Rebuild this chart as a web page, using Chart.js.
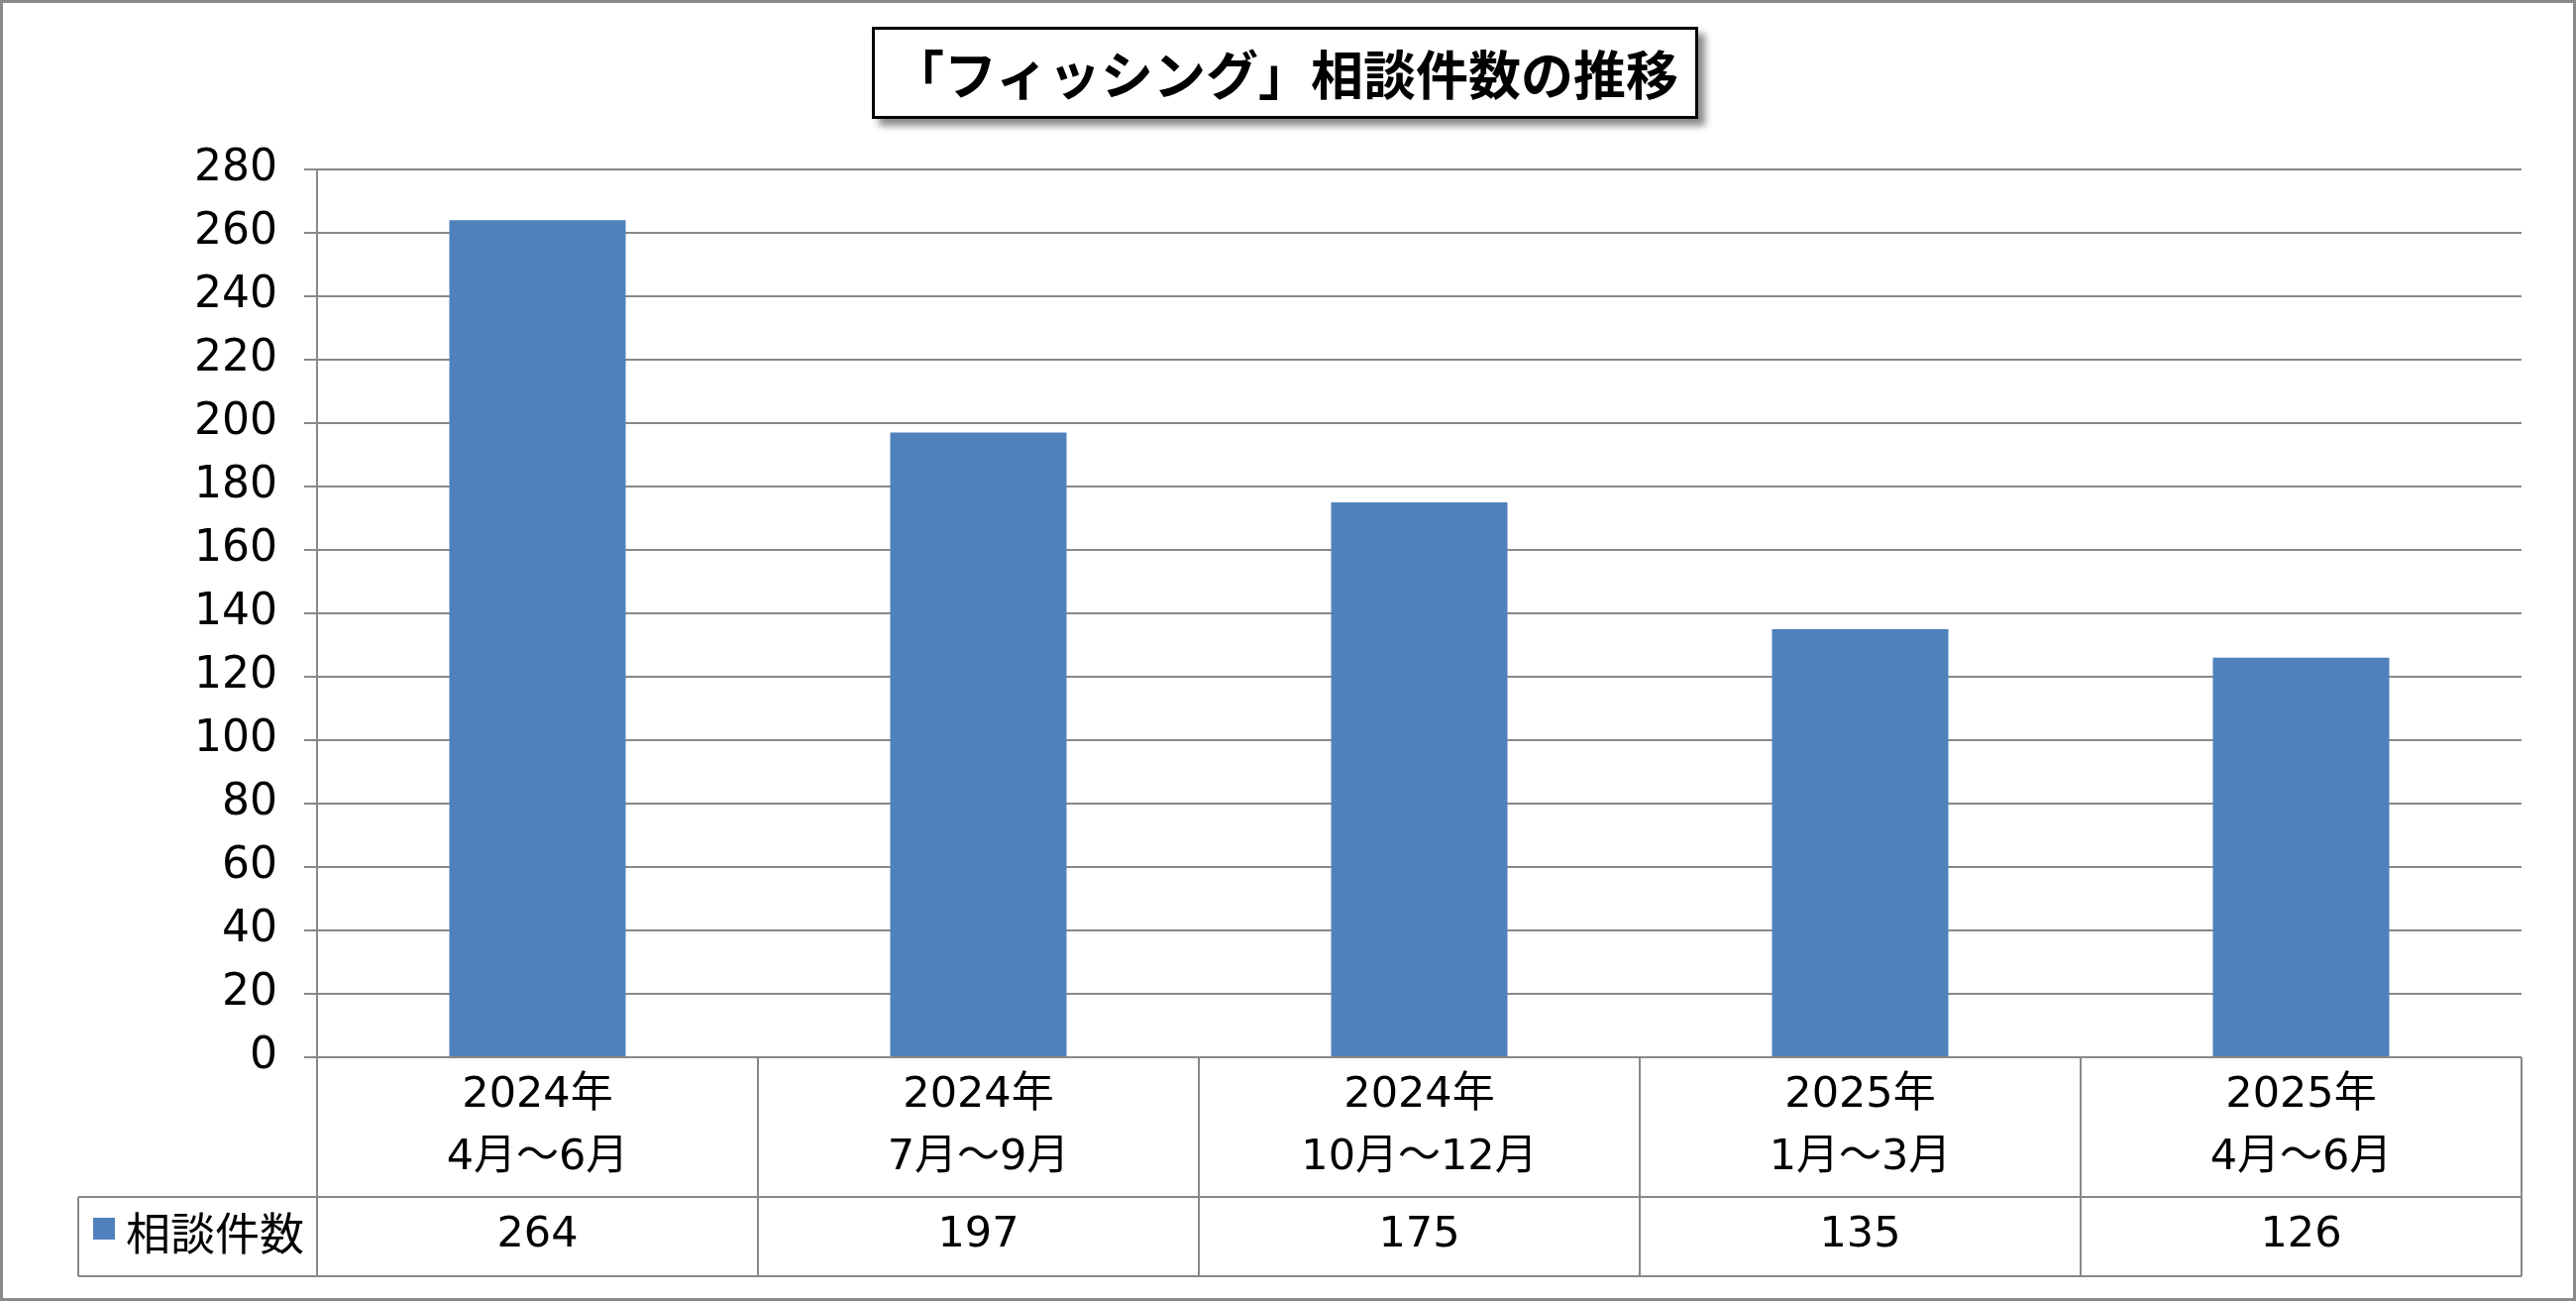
<!DOCTYPE html>
<html>
<head>
<meta charset="utf-8">
<script src="https://cdn.jsdelivr.net/npm/chart.js@4/dist/chart.umd.min.js"></script>
<style>
  html, body { margin: 0; padding: 0; background: #fff; }
  #wrap { position: relative; width: 2600px; height: 1313px; }
  #title {
    position: absolute; left: 880px; top: 27px; width: 834px; height: 93px;
    box-sizing: border-box; border: 3px solid #000; background: #fff;
    box-shadow: 7px 7px 7px rgba(0,0,0,0.45);
    font-family: "Noto Sans CJK JP", sans-serif; font-weight: 700; font-size: 53px;
    line-height: 87px; text-align: center; color: #000;
  }
</style>
</head>
<body>
<div id="wrap">
  <canvas id="bar-chart" width="2600" height="1313"></canvas>
  <div id="title">「フィッシング」相談件数の推移</div>
</div>
<script>
const years = ["2024年", "2024年", "2024年", "2025年", "2025年"];
const periods = ["4月～6月", "7月～9月", "10月～12月", "1月～3月", "4月～6月"];
const counts = [264, 197, 175, 135, 126];
const seriesName = "相談件数";
const yMin = 0, yMax = 280, yStep = 20;

const gridColor = "#888888";
const barColor = "#4F81BD";
const cjkFont = '"Noto Sans CJK JP", sans-serif';
const numFont = '"DejaVu Sans", "Noto Sans CJK JP", sans-serif';

// data table under the plot, drawn from the x scale
const tablePlugin = {
  id: "dataTable",
  beforeDraw(chart) {
    const ctx = chart.ctx;
    ctx.save();
    ctx.strokeStyle = "#8a8a8a";
    ctx.lineWidth = 3;
    ctx.strokeRect(1.5, 1.5, chart.width - 3, chart.height - 3);
    ctx.restore();
  },
  afterDraw(chart) {
    const ctx = chart.ctx;
    const x = chart.scales.x;
    const area = chart.chartArea;
    const n = counts.length;
    const step = x.getPixelForValue(1) - x.getPixelForValue(0);
    const rowMid = area.bottom + 141;
    const rowBot = area.bottom + 221;
    const legendLeft = 79;

    ctx.save();
    ctx.strokeStyle = gridColor;
    ctx.lineWidth = 2;
    ctx.beginPath();
    ctx.moveTo(legendLeft, rowMid); ctx.lineTo(area.right, rowMid);
    ctx.moveTo(legendLeft, rowBot); ctx.lineTo(area.right, rowBot);
    ctx.moveTo(legendLeft, rowMid); ctx.lineTo(legendLeft, rowBot);
    for (let i = 0; i <= n; i++) {
      const bx = i < n ? x.getPixelForValue(i) - step / 2 : x.getPixelForValue(n - 1) + step / 2;
      ctx.moveTo(bx, area.bottom); ctx.lineTo(bx, rowBot);
    }
    ctx.stroke();

    ctx.fillStyle = "#000";
    ctx.font = "43px " + numFont;
    ctx.textAlign = "center";
    ctx.textBaseline = "middle";
    for (let i = 0; i < n; i++) {
      const cx = x.getPixelForValue(i);
      ctx.fillText(years[i], cx, area.bottom + 39);
      ctx.fillText(periods[i], cx, area.bottom + 102);
      ctx.fillText(String(counts[i]), cx, rowMid + 39);
    }

    ctx.fillStyle = barColor;
    ctx.fillRect(94, rowMid + 21, 22, 22);
    ctx.fillStyle = "#000";
    ctx.font = "45px " + cjkFont;
    ctx.textAlign = "left";
    ctx.fillText(seriesName, 127, rowMid + 37);
    ctx.restore();
  }
};

new Chart(document.getElementById("bar-chart"), {
  type: "bar",
  data: {
    labels: years.map((y, i) => [y, periods[i]]),
    datasets: [
      {
        label: seriesName,
        data: counts,
        backgroundColor: barColor,
        borderWidth: 0,
        barPercentage: 0.4,
        categoryPercentage: 1.0,
      },
    ],
  },
  options: {
    responsive: false,
    animation: false,
    devicePixelRatio: 1,
    layout: { padding: { top: 171, right: 55, bottom: 246, left: 0 } },
    plugins: {
      legend: { display: false },
      tooltip: { enabled: false },
    },
    scales: {
      x: { display: false },
      y: {
        min: yMin,
        max: yMax,
        ticks: {
          stepSize: yStep,
          color: "#000",
          padding: 27,
          font: { family: '"DejaVu Sans", sans-serif', size: 44 },
        },
        grid: { color: gridColor, lineWidth: 2, tickLength: 13 },
        border: { color: gridColor, width: 2 },
        afterFit(scale) { scale.width = 320; },
      },
    },
  },
  plugins: [tablePlugin],
});
</script>
</body>
</html>
